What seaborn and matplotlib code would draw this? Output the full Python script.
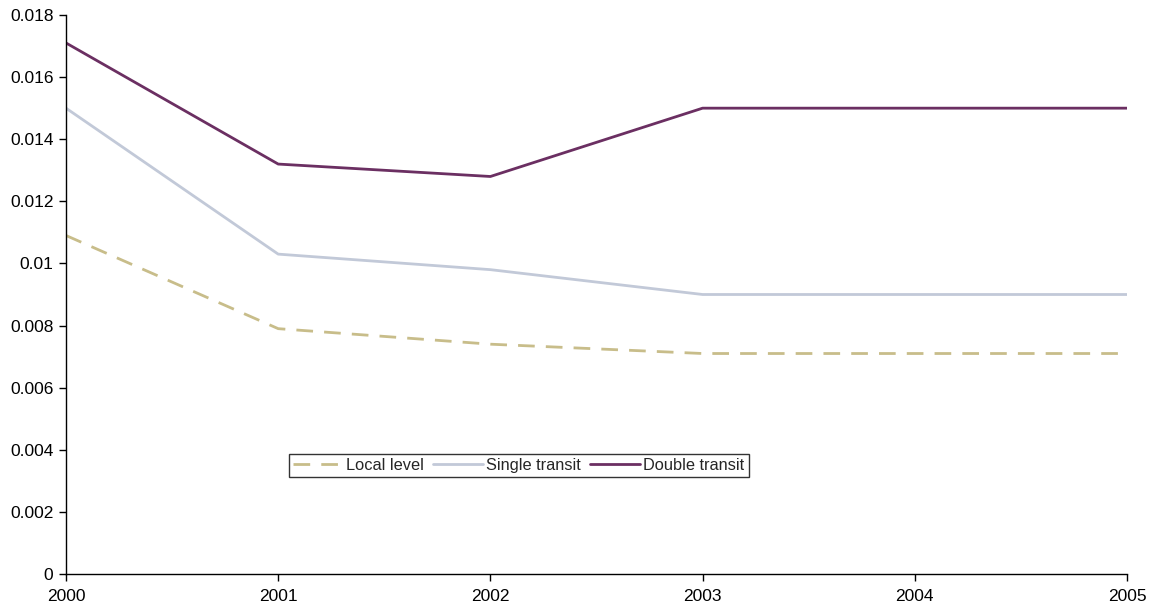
import matplotlib
matplotlib.use("Agg")
import matplotlib.pyplot as plt
import seaborn as sns
import pandas as pd

years = [2000, 2001, 2002, 2003, 2004, 2005]
local_level = [0.0109, 0.0079, 0.0074, 0.0071, 0.0071, 0.0071]
single_transit = [0.0150, 0.0103, 0.0098, 0.0090, 0.0090, 0.0090]
double_transit = [0.0171, 0.0132, 0.0128, 0.0150, 0.0150, 0.0150]
series_names = ["Local level", "Single transit", "Double transit"]
y_ticks = [0, 0.002, 0.004, 0.006, 0.008, 0.01, 0.012, 0.014, 0.016, 0.018]
y_tick_labels = ["0", "0.002", "0.004", "0.006", "0.008", "0.01", "0.012", "0.014", "0.016", "0.018"]

frames = []
for name, vals in zip(series_names, [local_level, single_transit, double_transit]):
    frames.append(pd.DataFrame({"year": years, "value": vals, "series": name}))
df = pd.concat(frames, ignore_index=True)

sns.set_style("white")
plt.rcParams["font.family"] = ["Liberation Sans", "DejaVu Sans"]

fig = plt.figure(figsize=(11.58, 6.08), dpi=100)
ax = fig.add_axes([66 / 1158, 1 - 574 / 608, (1127 - 66) / 1158, (574 - 15) / 608])

palette = {"Local level": "#c8bd8a", "Single transit": "#c2c9d8", "Double transit": "#6b2f62"}
dashes = {"Local level": (6, 4), "Single transit": "", "Double transit": ""}

sns.lineplot(data=df, x="year", y="value", hue="series", style="series",
             hue_order=series_names, style_order=series_names,
             palette=palette, dashes=dashes, linewidth=2.0, ax=ax, legend=True)

ax.set_xlim(2000, 2005)
ax.set_ylim(0, 0.018)
ax.set_xticks(years)
ax.set_xticklabels([str(y) for y in years], fontsize=12.5)
ax.set_yticks(y_ticks)
ax.set_yticklabels(y_tick_labels, fontsize=12.5)
ax.set_xlabel("")
ax.set_ylabel("")

for side in ["top", "right"]:
    ax.spines[side].set_visible(False)
for side in ["left", "bottom"]:
    ax.spines[side].set_color("black")
    ax.spines[side].set_linewidth(1.0)
ax.tick_params(axis="both", which="major", direction="out", length=5, width=1,
               color="black", bottom=True, left=True, labelcolor="black")
ax.tick_params(axis="x", pad=6)
ax.tick_params(axis="y", pad=4)
ax.grid(False)

handles, labels = ax.get_legend_handles_labels()
leg = ax.legend(handles, labels, loc="lower left", bbox_to_anchor=(0.21, 0.1735),
                ncol=3, frameon=True, fancybox=False, fontsize=11.8,
                handlelength=3.05, handletextpad=0.2, columnspacing=0.55,
                borderpad=0.25, borderaxespad=0)
leg.get_frame().set_edgecolor("black")
leg.get_frame().set_linewidth(1.0)

fig.savefig("out.png", dpi=100)
